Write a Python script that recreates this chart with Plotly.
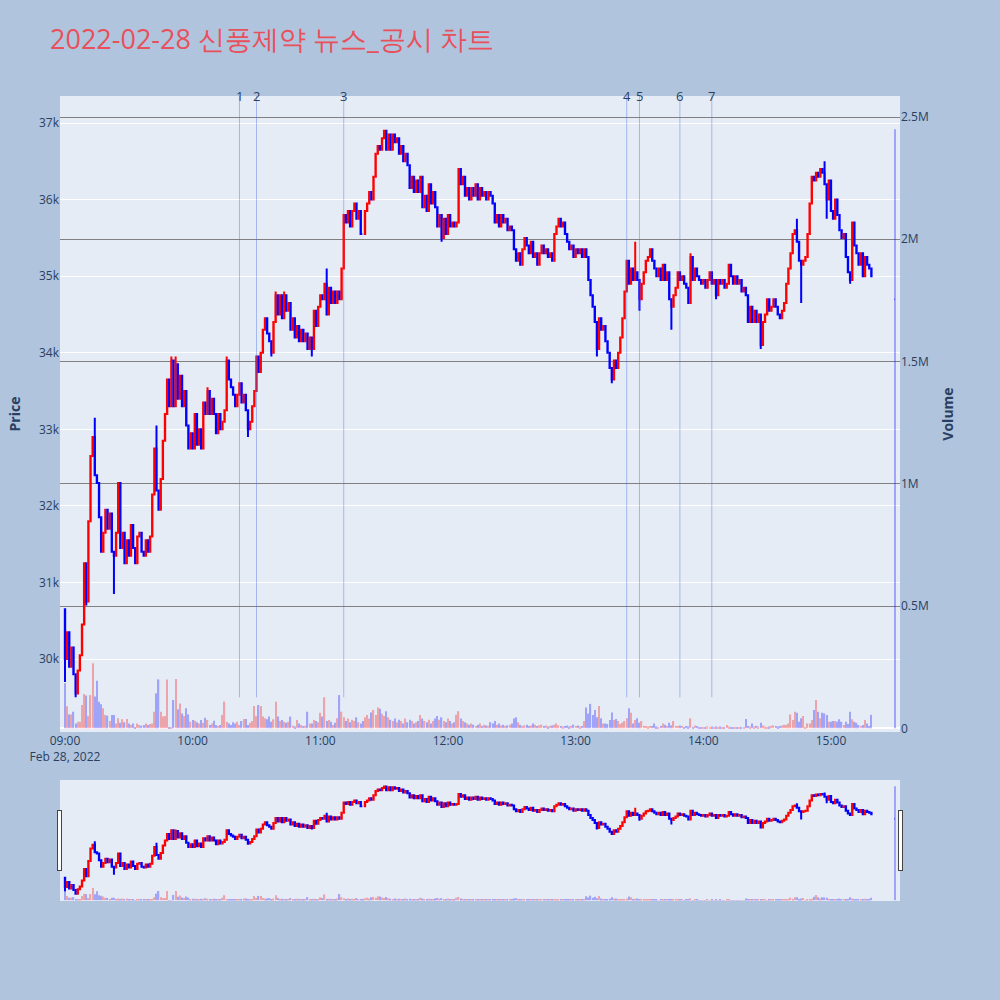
import pandas as pd
import plotly.graph_objects as go

TITLE = "2022-02-28 신풍제약 뉴스_공시 차트"
SESSION_START = "2022-02-28 09:00"
CLOSING_TIME = "2022-02-28 15:30"
X_RANGE = ["2022-02-28 08:57:39", "2022-02-28 15:32:27"]
PRICE_RANGE = [29047, 37353]
VOLUME_RANGE = [-15000, 2586000]

FIRST_OPEN = 30650
CLOSES = [
    30000, 30350, 29900, 30150, 29800, 29550, 29850, 30050, 30450, 31250,
    30750, 31800, 32650, 32900, 32400, 32300, 31850, 31400, 31650, 31950,
    31700, 31900, 31400, 31350, 31650, 32300, 31450, 31650, 31250, 31550,
    31350, 31750, 31450, 31250, 31600, 31650, 31400, 31350, 31550, 31400,
    31600, 32150, 32750, 32200, 31950, 32350, 32850, 33200, 33650, 33300,
    33900, 33300, 33850, 33400, 33700, 33300, 33500, 33050, 32750, 32950,
    32750, 33200, 32800, 33000, 32750, 33350, 33200, 33500, 33200, 33400,
    33200, 32950, 33200, 33000, 33100, 33250, 33900, 33650, 33550, 33450,
    33300, 33450, 33600, 33350, 33450, 33250, 33000, 33100, 33300, 33500,
    33950, 33750, 34000, 34300, 34450, 34250, 34150, 34000, 34400, 34750,
    34500, 34750, 34450, 34750, 34550, 34650, 34300, 34450, 34200, 34350,
    34150, 34300, 34150, 34250, 34050, 34200, 34050, 34550, 34350, 34600,
    34750, 34700, 34900, 34500, 34850, 34650, 34800, 34650, 34800, 34700,
    35100, 35800, 35700, 35850, 35650, 35850, 35950, 35750, 35850, 35550,
    35550, 35850, 35950, 36100, 36000, 36300, 36600, 36700, 36650, 36800,
    36900, 36650, 36850, 36650, 36850, 36750, 36800, 36600, 36700, 36500,
    36600, 36450, 36150, 36300, 36100, 36250, 36100, 36300, 35900, 36050,
    35850, 36200, 35950, 36100, 35900, 35650, 35800, 35500, 35750, 35550,
    35800, 35650, 35700, 35650, 35700, 36400, 36200, 36300, 36050, 36150,
    36000, 36150, 36050, 36200, 36000, 36150, 36050, 36100, 36000, 36100,
    36050, 35950, 35700, 35800, 35650, 35800, 35700, 35750, 35600, 35650,
    35600, 35350, 35200, 35300, 35150, 35350, 35500, 35400, 35300, 35450,
    35250, 35300, 35150, 35300, 35400, 35300, 35350, 35250, 35300, 35200,
    35550, 35650, 35750, 35650, 35700, 35550, 35450, 35350, 35400, 35250,
    35350, 35300, 35350, 35250, 35350, 35250, 34950, 34750, 34600, 34400,
    34050, 34450, 34300, 34350, 34150, 34000, 33800, 33650, 33900, 33800,
    34000, 34200, 34450, 34800, 35200, 34900, 35100, 34950, 35050, 34950,
    34700, 34900, 35050, 35200, 35250, 35350, 35200, 35100, 35000, 35100,
    34950, 35150, 34950, 35050, 34700, 34600, 34750, 34850, 35050, 34950,
    35000, 34900, 34850, 34650, 35250, 34950, 35100, 35000, 34950, 34900,
    34950, 34850, 34950, 35050, 34900, 34950, 34750, 34950, 34900, 34950,
    34850, 34900, 35150, 35000, 34900, 35000, 34900, 34950, 34800, 34850,
    34750, 34400, 34600, 34400, 34550, 34400, 34500, 34100, 34400, 34500,
    34700, 34550, 34600, 34700, 34600, 34500, 34450, 34550, 34650, 34900,
    35100, 35300, 35550, 35600, 35450, 35200, 35150, 35200, 35250, 35550,
    35950, 36300, 36250, 36350, 36300, 36400, 36350, 36200, 36000, 36250,
    35850, 35750, 36000, 35800, 35600, 35500, 35550, 35250, 35050, 34950,
    35700, 35400, 35300, 35150, 35300, 35000, 35250, 35150, 35100, 35000,
]
HIGH_WICKS = {0: 30650, 14: 33150, 43: 33050, 50: 33950, 52: 33950, 67: 33550,
              76: 33950, 99: 34800, 103: 34800, 123: 35100, 268: 35450,
              294: 35300, 344: 35750, 357: 36500}
LOW_WICKS = {0: 29700, 5: 29500, 10: 30700, 23: 30850, 86: 32900, 97: 33950,
             116: 33950, 177: 35450, 250: 33950, 257: 33600, 270: 34550,
             285: 34300, 306: 34700, 327: 34050, 346: 34650, 358: 35750,
             369: 34900}
VOLUMES_K = [
    184, 90, 57, 57, 68, 20, 27, 27, 95, 140,
    134, 50, 136, 266, 130, 195, 109, 98, 82, 55,
    52, 30, 55, 55, 20, 41, 23, 37, 25, 38,
    20, 14, 20, 4, 20, 14, 11, 14, 20, 14,
    18, 20, 68, 143, 200, 68, 48, 50, 200, 3,
    3, 116, 202, 78, 102, 61, 50, 82, 57, 27,
    34, 31, 25, 20, 34, 23, 43, 34, 14, 20,
    31, 14, 10, 14, 55, 109, 27, 20, 14, 25,
    20, 27, 14, 30, 38, 38, 14, 23, 30, 91,
    50, 95, 91, 48, 41, 37, 48, 27, 37, 109,
    48, 30, 34, 27, 23, 27, 48, 11, 7, 34,
    20, 14, 10, 10, 68, 20, 20, 34, 30, 25,
    64, 48, 127, 30, 34, 27, 14, 23, 41, 136,
    68, 45, 30, 40, 25, 35, 30, 45, 25, 20,
    30, 45, 55, 40, 65, 75, 55, 85, 80, 60,
    50, 70, 45, 35, 30, 40, 25, 35, 30, 20,
    40, 25, 35, 30, 20, 25, 30, 55, 40, 30,
    25, 35, 20, 30, 40, 50, 35, 45, 30, 25,
    40, 30, 20, 25, 55, 70, 40, 30, 25, 20,
    15, 20, 15, 10, 15, 20, 10, 15, 12, 10,
    25, 20, 30, 15, 20, 12, 15, 10, 12, 15,
    20, 40, 45, 25, 15, 10, 12, 15, 10, 12,
    20, 15, 10, 12, 15, 10, 12, 8, 10, 12,
    15, 20, 12, 10, 8, 10, 12, 8, 10, 15,
    10, 12, 8, 10, 30, 85, 60, 100, 55, 75,
    45, 91, 41, 20, 20, 18, 34, 65, 34, 38,
    30, 18, 23, 30, 41, 82, 64, 20, 34, 41,
    23, 30, 10, 10, 7, 10, 10, 20, 8, 5,
    10, 20, 15, 10, 23, 12, 30, 10, 10, 12,
    10, 5, 10, 8, 41, 5, 12, 10, 5, 3,
    3, 5, 8, 5, 8, 5, 8, 5, 8, 5,
    5, 14, 8, 5, 5, 5, 3, 5, 5, 5,
    38, 10, 8, 20, 8, 10, 8, 23, 12, 8,
    5, 8, 10, 12, 10, 8, 10, 12, 15, 14,
    20, 57, 34, 68, 64, 27, 41, 50, 5, 20,
    20, 34, 75, 116, 68, 41, 64, 61, 55, 27,
    27, 30, 30, 27, 37, 27, 14, 27, 18, 68,
    37, 27, 23, 14, 10, 14, 34, 20, 10, 55,
]
CLOSING_PRICE = 34700
CLOSING_VOLUME = 2450000

EVENT_LABELS = ["1", "2", "3", "4", "5", "6", "7"]
EVENT_TIMES = ["2022-02-28 10:22", "2022-02-28 10:30", "2022-02-28 11:11",
               "2022-02-28 13:24", "2022-02-28 13:30", "2022-02-28 13:49",
               "2022-02-28 14:04"]
EVENT_LINE_BOTTOM = 29500

# ---- assemble OHLCV ----
times = list(pd.date_range(SESSION_START, periods=len(CLOSES), freq="min"))
opens = [FIRST_OPEN] + CLOSES[:-1]
highs = [max(o, c, HIGH_WICKS.get(i, 0)) for i, (o, c) in enumerate(zip(opens, CLOSES))]
lows = [min(o, c, LOW_WICKS.get(i, 10 ** 9)) for i, (o, c) in enumerate(zip(opens, CLOSES))]
vols = [v * 1000 for v in VOLUMES_K]

times.append(pd.Timestamp(CLOSING_TIME))
opens.append(CLOSING_PRICE)
highs.append(CLOSING_PRICE)
lows.append(CLOSING_PRICE)
closes = CLOSES + [CLOSING_PRICE]
vols.append(CLOSING_VOLUME)

vol_colors = ["red" if c > o else "blue" for o, c in zip(opens, closes)]

fig = go.Figure()
fig.add_trace(go.Candlestick(
    x=times, open=opens, high=highs, low=lows, close=closes,
    increasing=dict(line=dict(color="red", width=2), fillcolor="red"),
    decreasing=dict(line=dict(color="blue", width=2), fillcolor="blue"),
    name="Price", yaxis="y",
))
fig.add_trace(go.Bar(
    x=times, y=vols, marker=dict(color=vol_colors, line=dict(width=0)),
    opacity=0.3, name="Volume", yaxis="y2",
))

for lab, t in zip(EVENT_LABELS, EVENT_TIMES):
    fig.add_shape(type="line", xref="x", yref="y", x0=t, x1=t,
                  y0=EVENT_LINE_BOTTOM, y1=PRICE_RANGE[1],
                  line=dict(color="rgba(65,105,225,0.4)", width=1))
    fig.add_annotation(x=t, xref="x", y=1, yref="paper", text=lab,
                       showarrow=False, yanchor="middle",
                       font=dict(size=13, color="#2a3f5f"))

fig.update_layout(
    width=1000, height=1000,
    title=dict(text=TITLE, x=0.05, xanchor="left", y=0.96, yanchor="middle",
               font=dict(size=27, color="#E8505B")),
    paper_bgcolor="#B0C4DE",
    plot_bgcolor="#E5ECF6",
    margin=dict(l=60, r=100, t=96, b=100),
    showlegend=False,
    bargap=0.4,
    boxgap=0.75,
    xaxis=dict(type="date", range=X_RANGE, showgrid=False,
               rangeslider=dict(visible=True, range=X_RANGE, thickness=0.15)),
    yaxis=dict(title=dict(text="<b>Price</b>"), range=PRICE_RANGE,
               gridcolor="white"),
    yaxis2=dict(title=dict(text="<b>Volume</b>"), overlaying="y", side="right",
                range=VOLUME_RANGE, showgrid=True, gridcolor="grey",
                zeroline=True, zerolinecolor="white", zerolinewidth=2),
)

fig.write_html("out.html",
               config={"displayModeBar": False},
               post_script="document.body.style.margin='0px';"
                           "document.body.style.background='#B0C4DE';")
